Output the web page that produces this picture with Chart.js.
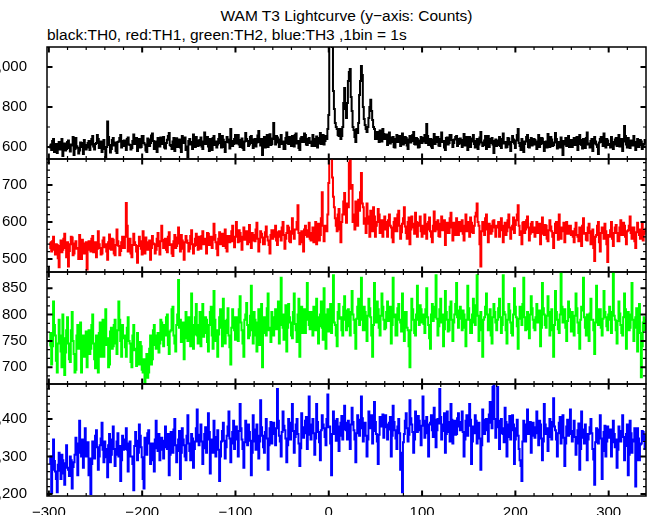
<!DOCTYPE html>
<html>
<head>
<meta charset="utf-8">
<title>WAM T3 Lightcurve</title>
<script src="https://cdn.jsdelivr.net/npm/chart.js@4.4.1/dist/chart.umd.min.js"></script>
<style>
  html, body { margin: 0; padding: 0; background: #fff; }
  #page { position: relative; width: 652px; height: 515px; overflow: hidden; font-family: "Liberation Sans", Arial, sans-serif; }
  .title { position: absolute; font-size: 15.5px; line-height: 1; color: #000; white-space: nowrap; }
  #title1 { left: 47px; width: 599px; text-align: center; top: 8px; }
  #title2 { left: 47px; top: 27px; }
  canvas { position: absolute; left: 0; }
</style>
</head>
<body>
<div id="page">
  <div class="title" id="title1">WAM T3 Lightcurve (y&minus;axis: Counts)</div>
  <div class="title" id="title2">black:TH0, red:TH1, green:TH2, blue:TH3 ,1bin = 1s</div>
  <!-- each canvas reaches 3px past its panel so the shared frame lines are not clipped -->
  <canvas id="th0" width="652" height="118" style="top:44px"></canvas>
  <canvas id="th1" width="652" height="119" style="top:156px"></canvas>
  <canvas id="th2" width="652" height="118" style="top:269px"></canvas>
  <canvas id="th3" width="652" height="134" style="top:381px"></canvas>
</div>
<script>
// time of the first bin and bin width (s); counts, one per second
const timeStart = -299;
const binSize = 1;

// TH0 (black)
const th0Counts = [
  612,598, 585,630, 640,575, 598,615, 570,603, 625,588, 601,640, 555,610, 618,582, 590,625,
  632,595, 578,612, 607,650, 560,590, 645,604, 596,568, 583,622, 620,600, 565,635, 610,588,
  598,620, 630,585, 612,640, 655,602, 587,615, 620,660, 640,595, 601,628, 575,612, 635,590,
  548,600, 728,650, 610,572, 590,635, 645,608, 622,580, 570,625, 628,645, 660,598, 605,630,
  632,605, 585,640, 648,612, 610,588, 595,630, 662,615, 618,645, 580,622, 640,598, 600,655,
  655,620, 612,583, 575,642, 638,605, 620,658, 668,630, 590,610, 627,575, 645,632, 603,648,
  615,632, 650,598, 592,620, 636,655, 670,610, 605,590, 628,645, 580,618, 644,600, 612,638,
  598,575, 655,625, 620,648, 585,602, 548,630, 640,612, 625,590, 662,628, 600,650, 632,605,
  610,635, 648,602, 590,628, 672,615, 620,650, 603,580, 640,622, 585,645, 655,610, 628,598,
  612,640, 665,620, 598,655, 636,600, 575,625, 650,638, 622,592, 690,630, 605,615, 640,660,
  618,645, 660,612, 600,635, 642,595, 585,628, 670,640, 630,605, 612,650, 655,620, 595,638,
  640,602, 622,658, 680,625, 608,640, 560,615, 650,598, 632,660, 600,635, 664,610, 615,642,
  720,640, 612,655, 648,622, 600,638, 660,615, 628,590, 590,645, 672,620, 615,650, 640,605,
  655,632, 602,660, 668,618, 630,595, 585,642, 650,625, 625,668, 660,612, 610,640, 645,620,
  628,605, 660,640, 605,625, 652,598, 618,645, 670,615, 640,660, 612,630, 655,640, 690,760,
  1140,1150, 1130,1100, 880,790, 720,700, 690,660, 655,690, 640,655, 700,820, 895,790, 745,820,
  930,975, 990,850, 780,700, 685,650, 625,690, 670,720, 860,930, 1005,960, 800,740, 710,690,
  675,700, 745,800, 836,780, 735,700, 690,640, 655,675, 640,625, 682,650, 628,690, 665,640,
  640,662, 610,635, 672,618, 625,648, 650,600, 598,640, 660,625, 632,655, 605,630, 668,612,
  620,650, 645,608, 590,638, 655,622, 630,660, 675,615, 612,645, 640,598, 600,632, 650,620,
  628,645, 660,620, 715,655, 610,630, 640,602, 595,638, 665,615, 625,650, 650,608, 605,640,
  672,625, 630,598, 585,645, 648,612, 620,660, 660,635, 600,620, 638,650, 655,605, 615,640,
  642,618, 600,635, 665,608, 620,650, 585,625, 650,600, 628,642, 660,615, 598,630, 640,590,
  612,648, 675,622, 605,610, 632,655, 590,628, 655,600, 620,640, 645,612, 570,630, 638,605,
  610,632, 650,605, 595,640, 668,618, 625,598, 600,645, 642,612, 580,625, 655,638, 618,595,
  632,660, 690,620, 605,585, 640,628, 575,615, 628,650, 660,600, 598,635, 645,608, 612,640,
  635,612, 590,628, 660,600, 615,645, 642,618, 580,625, 628,598, 665,632, 600,650, 638,605,
  610,622, 670,640, 592,615, 625,598, 648,630, 560,612, 630,645, 605,628, 655,600, 618,635,
  600,628, 645,610, 622,650, 585,615, 660,635, 610,592, 640,620, 595,645, 672,612, 618,598,
  630,640, 580,618, 650,628, 612,600, 565,622, 640,650, 625,605, 668,625, 598,640, 632,610,
  615,598, 650,625, 590,612, 638,645, 605,620, 660,602, 622,640, 580,628, 705,655, 612,598,
  645,618, 595,632, 630,608, 655,625, 585,612, 640,600, 610,635, 628,590, 600,615, 635,622
];

// TH1 (red)
const th1Counts = [
  545,530, 520,548, 560,525, 512,540, 538,502, 478,535, 550,518, 525,555, 568,530, 505,545,
  480,522, 540,560, 558,510, 515,542, 548,528, 530,500, 565,538, 500,552, 542,515, 528,545,
  472,525, 548,530, 520,555, 562,518, 535,545, 505,528, 575,540, 530,512, 515,550, 558,532,
  540,520, 498,545, 566,528, 525,555, 552,515, 510,538, 580,548, 535,510, 522,545, 560,530,
  530,560, 651,590, 520,542, 555,515, 505,538, 568,545, 538,520, 490,535, 560,548, 528,512,
  575,540, 515,558, 545,525, 532,550, 498,530, 562,542, 540,515, 525,555, 570,535, 512,548,
  590,552, 530,545, 555,525, 518,560, 572,538, 540,515, 508,548, 565,530, 535,558, 585,542,
  520,565, 550,528, 498,545, 562,550, 543,520, 528,562, 578,540, 515,535, 555,568, 538,525,
  560,545, 528,562, 575,540, 540,555, 515,570, 568,538, 548,560, 530,552, 595,565, 545,528,
  510,555, 572,540, 555,568, 535,550, 580,530, 520,562, 562,545, 548,575, 590,548, 532,560,
  600,565, 545,578, 570,548, 525,560, 585,552, 555,575, 540,562, 592,545, 530,570, 565,550,
  548,580, 598,555, 520,545, 575,568, 558,540, 540,572, 588,560, 550,538, 515,565, 578,555,
  560,578, 590,550, 538,572, 575,560, 550,585, 600,565, 528,555, 570,590, 585,548, 545,575,
  610,568, 555,580, 580,600, 645,570, 540,562, 575,545, 520,580, 590,565, 560,578, 598,555,
  550,570, 585,545, 562,600, 540,575, 595,550, 565,610, 680,590, 548,575, 590,575, 620,705,
  790,790, 785,720, 668,640, 610,590, 575,620, 635,580, 545,600, 620,655, 678,620, 598,650,
  640,760, 790,690, 700,600, 620,580, 655,625, 590,660, 630,680, 732,650, 640,595, 610,570,
  650,615, 595,560, 630,605, 575,640, 615,560, 590,600, 635,620, 570,595, 605,560, 580,615,
  600,580, 560,605, 620,590, 585,558, 545,600, 610,575, 575,620, 630,590, 555,572, 595,610,
  640,588, 570,555, 600,612, 540,580, 615,595, 585,568, 625,600, 560,590, 598,615, 575,560,
  590,568, 620,595, 555,580, 600,612, 575,560, 545,590, 628,575, 580,600, 605,562, 560,595,
  615,578, 585,605, 538,590, 598,570, 570,610, 625,585, 550,598, 590,565, 610,582, 565,600,
  575,595, 605,568, 550,590, 620,575, 585,600, 560,612, 598,572, 570,590, 615,625, 650,600,
  590,540, 480,575, 600,590, 565,610, 620,580, 545,595, 590,568, 575,602, 605,585, 560,590,
  585,600, 560,578, 610,590, 545,572, 598,565, 575,605, 620,585, 555,580, 590,612, 570,592,
  605,620, 645,590, 565,575, 540,598, 600,570, 580,605, 615,585, 550,568, 595,600, 572,585,
  560,585, 600,570, 578,595, 540,568, 612,580, 565,592, 590,555, 548,578, 605,588, 575,560,
  530,570, 595,600, 570,552, 620,585, 555,575, 585,598, 545,568, 600,580, 568,590, 590,565,
  575,560, 545,582, 598,565, 560,548, 585,572, 535,590, 610,568, 570,552, 550,585, 595,570,
  540,575, 580,530, 495,560, 565,590, 600,545, 520,570, 585,580, 555,595, 575,540, 492,565,
  560,578, 600,555, 535,570, 585,592, 570,548, 548,585, 605,565, 565,598, 590,560, 540,575,
  578,590, 615,570, 555,585, 585,548, 530,572, 598,580, 565,555, 580,600, 550,568, 575,582
];

// TH2 (green)
const th2Counts = [
  740,765, 705,740, 825,780, 760,712, 690,745, 790,760, 730,700, 800,755, 685,728, 770,795,
  745,715, 710,770, 805,750, 725,690, 695,760, 780,735, 740,785, 690,720, 760,740, 720,768,
  700,750, 770,725, 735,780, 800,745, 715,698, 760,738, 690,765, 785,720, 745,790, 720,755,
  810,742, 755,700, 705,768, 775,735, 740,780, 790,745, 725,770, 825,790, 750,720, 780,755,
  760,738, 720,775, 795,750, 745,710, 700,760, 780,732, 735,702, 765,720, 705,748, 740,695,
  690,715, 670,700, 725,680, 690,735, 760,705, 715,770, 780,742, 735,760, 765,728, 745,790,
  785,752, 740,780, 760,795, 800,742, 725,768, 770,810, 815,760, 745,730, 780,800, 866,775,
  790,748, 760,785, 715,755, 805,770, 750,795, 775,740, 840,780, 735,762, 795,820, 760,745,
  780,805, 740,772, 820,758, 765,795, 790,748, 730,780, 805,815, 760,735, 845,790, 750,770,
  720,762, 795,810, 775,740, 830,788, 745,765, 790,812, 760,738, 705,775, 810,795, 770,752,
  795,768, 750,810, 835,785, 770,745, 720,790, 800,822, 780,755, 760,798, 855,770, 745,805,
  790,760, 730,785, 810,742, 775,820, 700,765, 795,780, 760,812, 840,770, 775,748, 805,790,
  760,795, 810,772, 790,825, 745,780, 870,800, 775,752, 800,818, 730,775, 820,795, 785,760,
  755,805, 840,782, 770,748, 800,830, 720,790, 815,765, 790,810, 765,790, 860,805, 780,772,
  805,785, 760,815, 790,770, 830,795, 745,778, 800,825, 775,752, 850,800, 735,790, 810,768,
  790,820, 765,798, 875,785, 780,760, 740,805, 820,792, 795,770, 760,815, 835,790, 770,808,
  810,778, 760,805, 845,800, 790,765, 735,792, 815,830, 780,805, 870,790, 770,815, 805,770,
  750,798, 830,812, 795,760, 720,780, 860,808, 785,825, 810,775, 760,798, 840,815, 790,772,
  775,805, 825,788, 790,815, 745,780, 870,795, 800,760, 760,812, 820,790, 785,768, 840,805,
  750,790, 805,775, 770,740, 700,770, 830,810, 790,765, 760,800, 855,790, 780,818, 810,785,
  800,782, 765,810, 850,795, 780,755, 735,800, 820,788, 795,815, 875,792, 760,778, 810,830,
  785,800, 740,772, 845,805, 790,768, 770,815, 825,790, 750,785, 800,820, 860,795, 775,808,
  815,792, 770,808, 800,775, 740,790, 855,812, 790,765, 765,800, 830,785, 780,818, 875,798,
  750,785, 805,770, 720,790, 795,815, 840,800, 770,782, 810,760, 745,795, 820,805, 785,770,
  790,812, 830,795, 765,780, 875,805, 800,770, 745,790, 820,808, 785,765, 760,800, 850,815,
  795,778, 735,792, 815,800, 780,820, 870,795, 770,788, 805,772, 755,800, 835,812, 790,775,
  770,795, 820,785, 790,808, 740,775, 860,812, 800,780, 775,798, 835,805, 760,790, 810,770,
  720,780, 845,805, 790,772, 765,800, 880,815, 785,792, 810,775, 750,788, 825,810, 795,768,
  805,780, 760,798, 840,812, 785,765, 735,790, 815,808, 870,795, 775,760, 800,785, 750,802,
  830,790, 790,770, 725,785, 855,810, 780,798, 810,775, 760,792, 845,805, 795,778, 770,800,
  815,790, 765,805, 880,798, 790,770, 745,788, 825,802, 780,765, 760,795, 840,810, 735,782,
  805,770, 775,800, 860,790, 750,775, 795,812, 730,780, 820,765, 681,740, 785,795, 770,790
];

// TH3 (blue)
const th3Counts = [
  1280,1300, 1203,1265, 1345,1288, 1260,1240, 1205,1278, 1310,1262, 1240,1305, 1290,1255, 1225,1282, 1330,1270,
  1265,1248, 1300,1290, 1215,1272, 1285,1305, 1350,1320, 1250,1335, 1395,1310, 1300,1345, 1270,1325, 1375,1300,
  1310,1338, 1250,1295, 1200,1280, 1340,1312, 1295,1355, 1370,1325, 1265,1300, 1330,1348, 1390,1318, 1285,1340,
  1320,1298, 1245,1330, 1360,1285, 1305,1345, 1380,1320, 1275,1305, 1340,1362, 1300,1328, 1235,1290, 1355,1318,
  1320,1345, 1375,1318, 1260,1335, 1340,1300, 1300,1280, 1210,1328, 1365,1342, 1290,1310, 1385,1355, 1325,1298,
  1240,1215, 1350,1330, 1305,1362, 1370,1335, 1280,1318, 1335,1290, 1260,1345, 1395,1322, 1315,1360, 1290,1338,
  1350,1318, 1295,1342, 1380,1325, 1320,1360, 1250,1305, 1365,1338, 1310,1372, 1400,1330, 1285,1315, 1345,1368,
  1240,1310, 1375,1345, 1330,1300, 1290,1355, 1410,1335, 1315,1290, 1360,1348, 1270,1320, 1340,1375, 1425,1340,
  1330,1358, 1385,1340, 1280,1322, 1360,1378, 1310,1345, 1415,1365, 1255,1330, 1345,1310, 1395,1352, 1300,1338,
  1370,1318, 1235,1300, 1340,1368, 1390,1342, 1295,1325, 1355,1380, 1420,1348, 1285,1335, 1365,1395, 1320,1352,
  1380,1345, 1300,1368, 1440,1375, 1345,1320, 1270,1338, 1395,1362, 1330,1385, 1365,1342, 1250,1310, 1410,1372,
  1340,1318, 1385,1355, 1295,1340, 1450,1378, 1355,1325, 1310,1365, 1400,1348, 1265,1330, 1375,1392, 1335,1360,
  1390,1362, 1330,1375, 1480,1395, 1355,1340, 1300,1365, 1420,1382, 1370,1348, 1285,1330, 1400,1375, 1345,1390,
  1440,1368, 1310,1352, 1385,1400, 1360,1335, 1275,1322, 1415,1378, 1350,1362, 1395,1405, 1320,1358, 1460,1385,
  1345,1385, 1400,1362, 1305,1348, 1440,1392, 1365,1338, 1290,1370, 1410,1385, 1375,1352, 1330,1400, 1465,1378,
  1380,1335, 1250,1360, 1420,1395, 1360,1342, 1400,1380, 1315,1355, 1390,1408, 1345,1372, 1435,1390, 1370,1345,
  1395,1368, 1320,1385, 1430,1392, 1370,1345, 1285,1362, 1410,1398, 1355,1375, 1460,1402, 1340,1372, 1390,1355,
  1300,1345, 1420,1388, 1375,1410, 1335,1368, 1445,1392, 1360,1340, 1280,1358, 1405,1385, 1380,1412, 1350,1378,
  1410,1385, 1345,1372, 1390,1405, 1300,1355, 1435,1392, 1370,1348, 1320,1380, 1400,1362, 1265,1310, 1205,1338,
  1360,1395, 1415,1375, 1340,1358, 1450,1402, 1385,1365, 1310,1345, 1420,1390, 1365,1408, 1395,1370, 1330,1382,
  1460,1395, 1350,1378, 1405,1362, 1300,1385, 1390,1410, 1370,1352, 1430,1398, 1325,1370, 1400,1388, 1480,1405,
  1345,1368, 1385,1415, 1310,1360, 1420,1392, 1365,1340, 1440,1398, 1335,1375, 1395,1358, 1360,1402, 1415,1380,
  1370,1392, 1420,1365, 1300,1345, 1395,1410, 1355,1382, 1440,1398, 1280,1340, 1380,1362, 1410,1395, 1335,1372,
  1390,1348, 1265,1330, 1425,1398, 1360,1385, 1400,1370, 1340,1412, 1445,1390, 1375,1485, 1490,1400, 1350,1378,
  1485,1395, 1320,1362, 1400,1375, 1360,1338, 1430,1392, 1300,1352, 1385,1408, 1345,1370, 1410,1385, 1280,1345,
  1375,1398, 1355,1320, 1290,1275, 1235,1340, 1395,1368, 1340,1385, 1425,1360, 1370,1392, 1310,1355, 1390,1372,
  1350,1378, 1420,1362, 1330,1395, 1385,1348, 1290,1340, 1440,1385, 1360,1375, 1315,1352, 1400,1370, 1345,1392,
  1455,1380, 1370,1345, 1300,1362, 1390,1405, 1335,1368, 1410,1350, 1275,1335, 1380,1398, 1355,1372, 1425,1360,
  1340,1368, 1395,1352, 1305,1335, 1370,1388, 1265,1320, 1420,1372, 1350,1335, 1385,1360, 1290,1345, 1360,1378,
  1400,1362, 1320,1292, 1225,1338, 1375,1355, 1335,1372, 1410,1348, 1240,1315, 1365,1382, 1300,1340, 1380,1358,
  1350,1372, 1300,1338, 1395,1360, 1325,1345, 1270,1318, 1380,1355, 1340,1368, 1410,1352, 1290,1328, 1360,1385,
  1250,1305, 1395,1362, 1310,1340, 1345,1375, 1220,1290, 1375,1348, 1290,1332, 1335,1368, 1365,1342, 1320,1358
];

// axis ticks
const xMajorTicks = [-300, -200, -100, 0, 100, 200, 300];
const xMinorTicks = [-280, -260, -240, -220, -180, -160, -140, -120, -80, -60, -40, -20,
  20, 40, 60, 80, 120, 140, 160, 180, 220, 240, 260, 280, 320];
const th0Ticks = [600, 800, 1000];
const th0Minor = [700, 900];
const th1Ticks = [500, 600, 700];
const th1Minor = [480, 520, 540, 560, 580, 620, 640, 660, 680, 720, 740, 760];
const th2Ticks = [700, 750, 800, 850];
const th2Minor = [683.3, 716.7, 733.3, 766.7, 783.3, 816.7, 833.3, 866.7];
const th3Ticks = [1200, 1300, 1400];
const th3Minor = [1220, 1240, 1260, 1280, 1320, 1340, 1360, 1380, 1420, 1440, 1460, 1480];

const labelFont = { family: '"Liberation Sans", Arial, sans-serif', size: 15 };

// box around each panel with inward ticks on all four sides
const frameTicks = {
    id: 'frameTicks',
    afterDraw: function(chart, args, opts) {
        const ctx = chart.ctx;
        const a = chart.chartArea;
        const xs = chart.scales.x;
        const ys = chart.scales.y;

        ctx.save();
        ctx.strokeStyle = '#000';

        function tickSet(xVals, yVals, len, width) {
            ctx.lineWidth = width;
            ctx.beginPath();
            xVals.forEach(function(v) {
                const px = xs.getPixelForValue(v);
                ctx.moveTo(px, a.top); ctx.lineTo(px, a.top + len);
                ctx.moveTo(px, a.bottom); ctx.lineTo(px, a.bottom - len);
            });
            yVals.forEach(function(v) {
                const py = ys.getPixelForValue(v);
                ctx.moveTo(a.left, py); ctx.lineTo(a.left + len, py);
                ctx.moveTo(a.right, py); ctx.lineTo(a.right - len, py);
            });
            ctx.stroke();
        }

        tickSet(xMinorTicks, opts.minor, 3, 1.2);
        tickSet(xMajorTicks, opts.major, 5.5, 2);

        ctx.lineWidth = 1.5;
        ctx.strokeRect(a.left, a.top, a.right - a.left, a.bottom - a.top);
        ctx.restore();
    }
};

function makePanel(canvasId, counts, color, yMin, yMax, yTicks, yMinor, showX) {
    const points = counts.map(function(v, i) {
        return { x: timeStart + i * binSize, y: v };
    });

    return new Chart(document.getElementById(canvasId), {
        type: 'line',
        data: {
            datasets: [{
                data: points,
                borderColor: color,
                borderWidth: 2,
                pointRadius: 0,
                stepped: 'middle',
                fill: false
            }]
        },
        options: {
            responsive: false,
            animation: false,
            events: [],
            layout: { padding: { left: 0, right: 6, top: 3, bottom: showX ? 0 : 3 } },
            plugins: {
                legend: { display: false },
                tooltip: { enabled: false },
                frameTicks: { major: yTicks, minor: yMinor }
            },
            scales: {
                x: {
                    type: 'linear',
                    min: -302,
                    max: 340,
                    display: showX,
                    grid: { display: false },
                    border: { display: false },
                    ticks: {
                        color: '#000',
                        font: labelFont,
                        padding: 0,
                        maxRotation: 0,
                        autoSkip: false,
                        callback: function(v) {
                            return v < 0 ? '\u2212' + Math.abs(v) : String(v);
                        }
                    },
                    afterBuildTicks: function(s) {
                        s.ticks = xMajorTicks.map(function(v) { return { value: v }; });
                    },
                    afterFit: function(s) {
                        s.height = showX ? 19 : 0;
                        s.paddingLeft = 0;
                        s.paddingRight = 0;
                    }
                },
                y: {
                    type: 'linear',
                    min: yMin,
                    max: yMax,
                    grid: { display: false },
                    border: { display: false },
                    ticks: {
                        color: '#000',
                        font: labelFont,
                        padding: 12,
                        autoSkip: false
                    },
                    afterBuildTicks: function(s) {
                        s.ticks = yTicks.map(function(v) { return { value: v }; });
                    },
                    afterFit: function(s) {
                        s.width = 47;
                        s.paddingTop = 0;
                        s.paddingBottom = 0;
                    }
                }
            }
        },
        plugins: [frameTicks]
    });
}

makePanel('th0', th0Counts, '#000000', 540, 1100, th0Ticks, th0Minor, false);
makePanel('th1', th1Counts, '#ff0000', 465, 770, th1Ticks, th1Minor, false);
makePanel('th2', th2Counts, '#00ff00', 668, 881, th2Ticks, th2Minor, false);
makePanel('th3', th3Counts, '#0000ff', 1195, 1493, th3Ticks, th3Minor, true);
</script>
</body>
</html>
